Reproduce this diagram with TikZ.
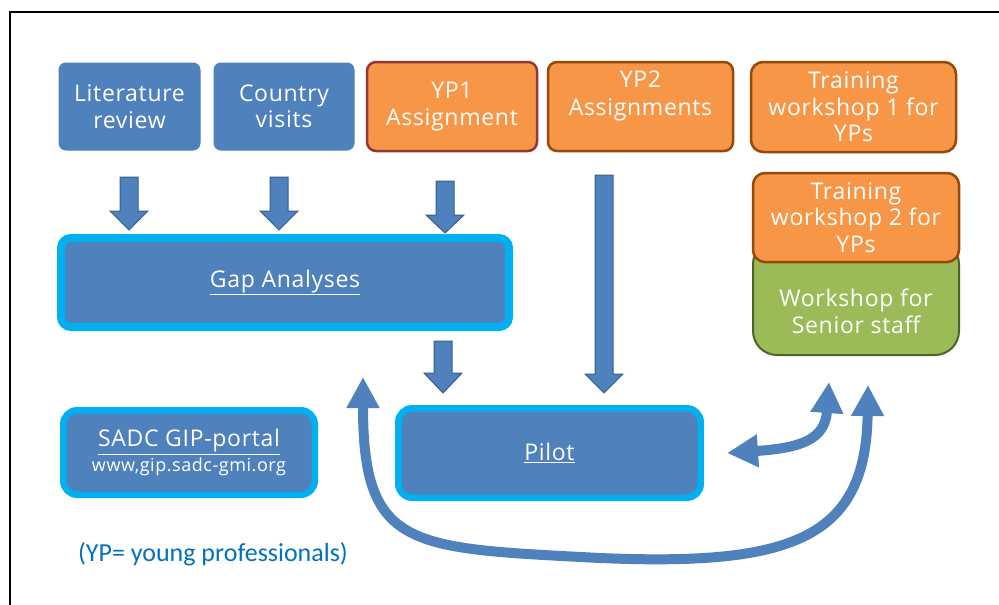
\documentclass[tikz,border=0pt]{standalone}
\usepackage{fontspec}
\setmainfont{Open Sans}[LetterSpace=3]
\newfontfamily\notefont{Carlito}
\usetikzlibrary{arrows.meta}

\definecolor{boxblue}{HTML}{4F81BD}
\definecolor{edgeblue}{HTML}{385D8A}
\definecolor{skyblue}{HTML}{00B0F0}
\definecolor{boxorange}{HTML}{F79646}
\definecolor{edgebrown}{HTML}{984807}
\definecolor{edgered}{HTML}{953735}
\definecolor{boxgreen}{HTML}{9BBB59}
\definecolor{edgegreen}{HTML}{4F6228}
\definecolor{notetext}{HTML}{0070C0}

% block arrow pointing down: x, top, neck, tip
\newcommand{\blockarrow}[4]{%
  \draw[fatarrow] (#1-9,#2) -- (#1+9,#2) -- (#1+9,#3) -- (#1+19,#3)
    -- (#1,#4) -- (#1-19,#3) -- (#1-9,#3) -- cycle;}

\tikzset{
  every node/.style={align=center, text=white, inner sep=0pt,
    font=\fontsize{23}{26.5}\selectfont},
  bluebox/.style={rectangle, rounded corners=7, fill=boxblue, draw=boxblue,
    line width=1, minimum height=87},
  orangebox/.style={rectangle, rounded corners=12, fill=boxorange,
    draw=edgebrown, line width=2.5},
  greenbox/.style={rectangle, rounded corners=24, fill=boxgreen,
    draw=edgegreen, line width=2},
  cyanbox/.style={rectangle, rounded corners=14, fill=boxblue,
    draw=skyblue, line width=6.5},
  fatarrow/.style={fill=boxblue, draw=edgeblue, line width=1},
  bendarrow/.style={draw=boxblue, line width=10,
    {Triangle[width=31pt,length=31pt]}-{Triangle[width=31pt,length=31pt]}}
}

\begin{document}
\begin{tikzpicture}[x=1pt,y=-1pt]
\useasboundingbox (0,0) rectangle (999,605);
\draw[line width=2] (10,605) -- (10,11.5) -- (999,11.5);

% top row
\node at (129.5,106.5) [bluebox, minimum width=141] (lit) {Literature\\review};
\node at (284,106.5) [bluebox, minimum width=140] (visits) {Country\\visits};
\node at (452,106.5) [orangebox, draw=edgered, rounded corners=9,
  minimum width=170, minimum height=89] (yp1) {YP1\\Assignment};
\node at (640.5,106.5) [orangebox, rounded corners=9,
  minimum width=185, minimum height=89] (yp2) {YP2\\[1.5pt]Assignments\\\mbox{}};
\node at (853.5,107) [orangebox, minimum width=205, minimum height=90] (tw1)
  {Training\\workshop 1 for\\YPs};

% workshops on the right
\node at (856,297.5) [greenbox, minimum width=206, minimum height=115] (senior)
  {\strut\\Workshop for\\Senior staff};
\node at (856,217.5) [orangebox, minimum width=206, minimum height=89] (tw2)
  {Training\\workshop 2 for\\YPs};

% middle and bottom
\node at (285,282.5) [cyanbox, line width=8, rounded corners=10,
  minimum width=448, minimum height=89] (gap) {\underline{Gap Analyses}};
\node at (549.5,453) [cyanbox, minimum width=302.5, minimum height=89.5] (pilot)
  {\underline{Pilot}};
\node at (189,452.5) [cyanbox, minimum width=251.5, minimum height=84.5] (portal)
  {\underline{SADC GIP-portal}\\[-2pt]{\fontsize{18}{22}\selectfont www,gip.sadc-gmi.org}};
\node at (213,554) [text=notetext, font=\notefont\fontsize{26}{30}\selectfont] (note)
  {(YP= young professionals)};

% down arrows
\blockarrow{129}{177}{211}{230}
\blockarrow{279}{177}{211}{230}
\blockarrow{445}{181}{215}{233}
\blockarrow{443}{341}{373}{393}
\blockarrow{604}{175}{374}{393}

% feedback arrows
\coordinate (loopL) at (363,377);
\coordinate (loopR) at (868,385);
\coordinate (backL) at (727,453);
\coordinate (backR) at (829,382);
\draw[bendarrow] (loopL) .. controls (363,550) and (410,548) .. (600,558)
  .. controls (790,566) and (866,540) .. (loopR);
\draw[bendarrow] (backL) .. controls (800,448) and (825,440) .. (backR);
\end{tikzpicture}
\end{document}
